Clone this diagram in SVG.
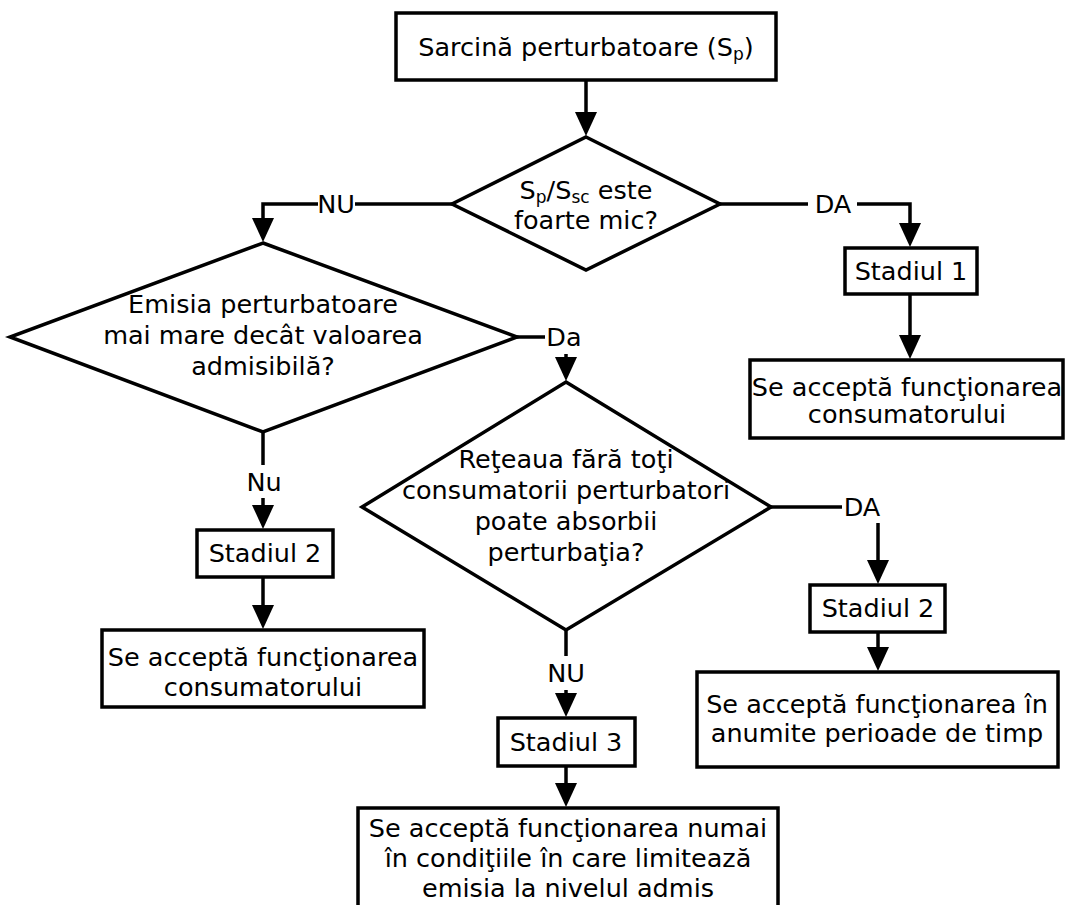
<svg xmlns="http://www.w3.org/2000/svg" width="1065" height="905" viewBox="0 0 1065 905">
<style>
.b{fill:#fff;stroke:#000;stroke-width:3.5}
.c{fill:none;stroke:#000;stroke-width:3.5}
text{font-family:"DejaVu Sans","Verdana",sans-serif;font-size:25.5px;fill:#000;text-anchor:middle}
.s{font-size:17px}
</style>
<defs>
<marker id="ah" markerUnits="userSpaceOnUse" markerWidth="26" markerHeight="22" refX="1" refY="11" orient="auto">
<path d="M0,0 L24,11 L0,22 z" fill="#000"/>
</marker>
</defs>
<rect width="1065" height="905" fill="#fff"/>
<g id="connectors">
<path class="c" d="M586,80 V113" marker-end="url(#ah)"/>
<path class="c" d="M452,204 H355"/>
<path class="c" d="M318,204 H263 V219" marker-end="url(#ah)"/>
<path class="c" d="M720,204 H808"/>
<path class="c" d="M857,204 H910 V224" marker-end="url(#ah)"/>
<path class="c" d="M910,294 V336" marker-end="url(#ah)"/>
<path class="c" d="M517,337 H545"/>
<path class="c" d="M566,354 V358" marker-end="url(#ah)"/>
<path class="c" d="M771,507 H842"/>
<path class="c" d="M878,523 V561" marker-end="url(#ah)"/>
<path class="c" d="M878,632 V648" marker-end="url(#ah)"/>
<path class="c" d="M566,630 V656"/>
<path class="c" d="M566,690 V694" marker-end="url(#ah)"/>
<path class="c" d="M566,766 V784" marker-end="url(#ah)"/>
<path class="c" d="M263,432 V465"/>
<path class="c" d="M263,498 V506" marker-end="url(#ah)"/>
<path class="c" d="M263,577 V606" marker-end="url(#ah)"/>
<text x="336" y="213">NU</text>
<text x="833" y="213">DA</text>
<text x="564" y="346">Da</text>
<text x="862" y="516">DA</text>
<text x="264" y="491">Nu</text>
<text x="566" y="682">NU</text>
</g>
<g id="start">
<rect class="b" x="396" y="13" width="380" height="67"/>
<text x="586" y="56">Sarcină perturbatoare (S<tspan class="s" dy="4">p</tspan><tspan dy="-4">)</tspan></text>
</g>
<g id="decision1">
<polygon class="b" points="586,137 720,204 586,270 452,204"/>
<text x="586" y="199">S<tspan class="s" dy="4">p</tspan><tspan dy="-4">/S</tspan><tspan class="s" dy="4">sc</tspan><tspan dy="-4"> este</tspan></text>
<text x="586" y="229">foarte mic?</text>
</g>
<g id="stage1">
<rect class="b" x="845" y="248" width="132" height="46"/>
<text x="911" y="280">Stadiul 1</text>
</g>
<g id="accept1">
<rect class="b" x="750" y="360" width="313" height="78"/>
<text x="907" y="396">Se acceptă funcţionarea</text>
<text x="907" y="423">consumatorului</text>
</g>
<g id="decision2">
<polygon class="b" points="263,243 517,337 263,432 10,337"/>
<text x="263" y="313">Emisia perturbatoare</text>
<text x="263" y="344">mai mare decât valoarea</text>
<text x="263" y="375">admisibilă?</text>
</g>
<g id="stage2left">
<rect class="b" x="197" y="530" width="136" height="47"/>
<text x="265" y="562">Stadiul 2</text>
</g>
<g id="accept2">
<rect class="b" x="102" y="630" width="322" height="77"/>
<text x="263" y="666">Se acceptă funcţionarea</text>
<text x="263" y="696">consumatorului</text>
</g>
<g id="decision3">
<polygon class="b" points="566,382 771,507 566,630 362,507"/>
<text x="566" y="468">Reţeaua fără toţi</text>
<text x="566" y="499">consumatorii perturbatori</text>
<text x="566" y="530">poate absorbii</text>
<text x="566" y="561">perturbaţia?</text>
</g>
<g id="stage2right">
<rect class="b" x="810" y="585" width="135" height="47"/>
<text x="878" y="617">Stadiul 2</text>
</g>
<g id="accept3">
<rect class="b" x="697" y="672" width="361" height="95"/>
<text x="877" y="713">Se acceptă funcţionarea în</text>
<text x="877" y="742">anumite perioade de timp</text>
</g>
<g id="stage3">
<rect class="b" x="498" y="718" width="137" height="48"/>
<text x="566" y="751">Stadiul 3</text>
</g>
<g id="accept4">
<rect class="b" x="358" y="808" width="420" height="110"/>
<text x="568" y="837">Se acceptă funcţionarea numai</text>
<text x="568" y="867">în condiţiile în care limitează</text>
<text x="568" y="897">emisia la nivelul admis</text>
</g>
</svg>
